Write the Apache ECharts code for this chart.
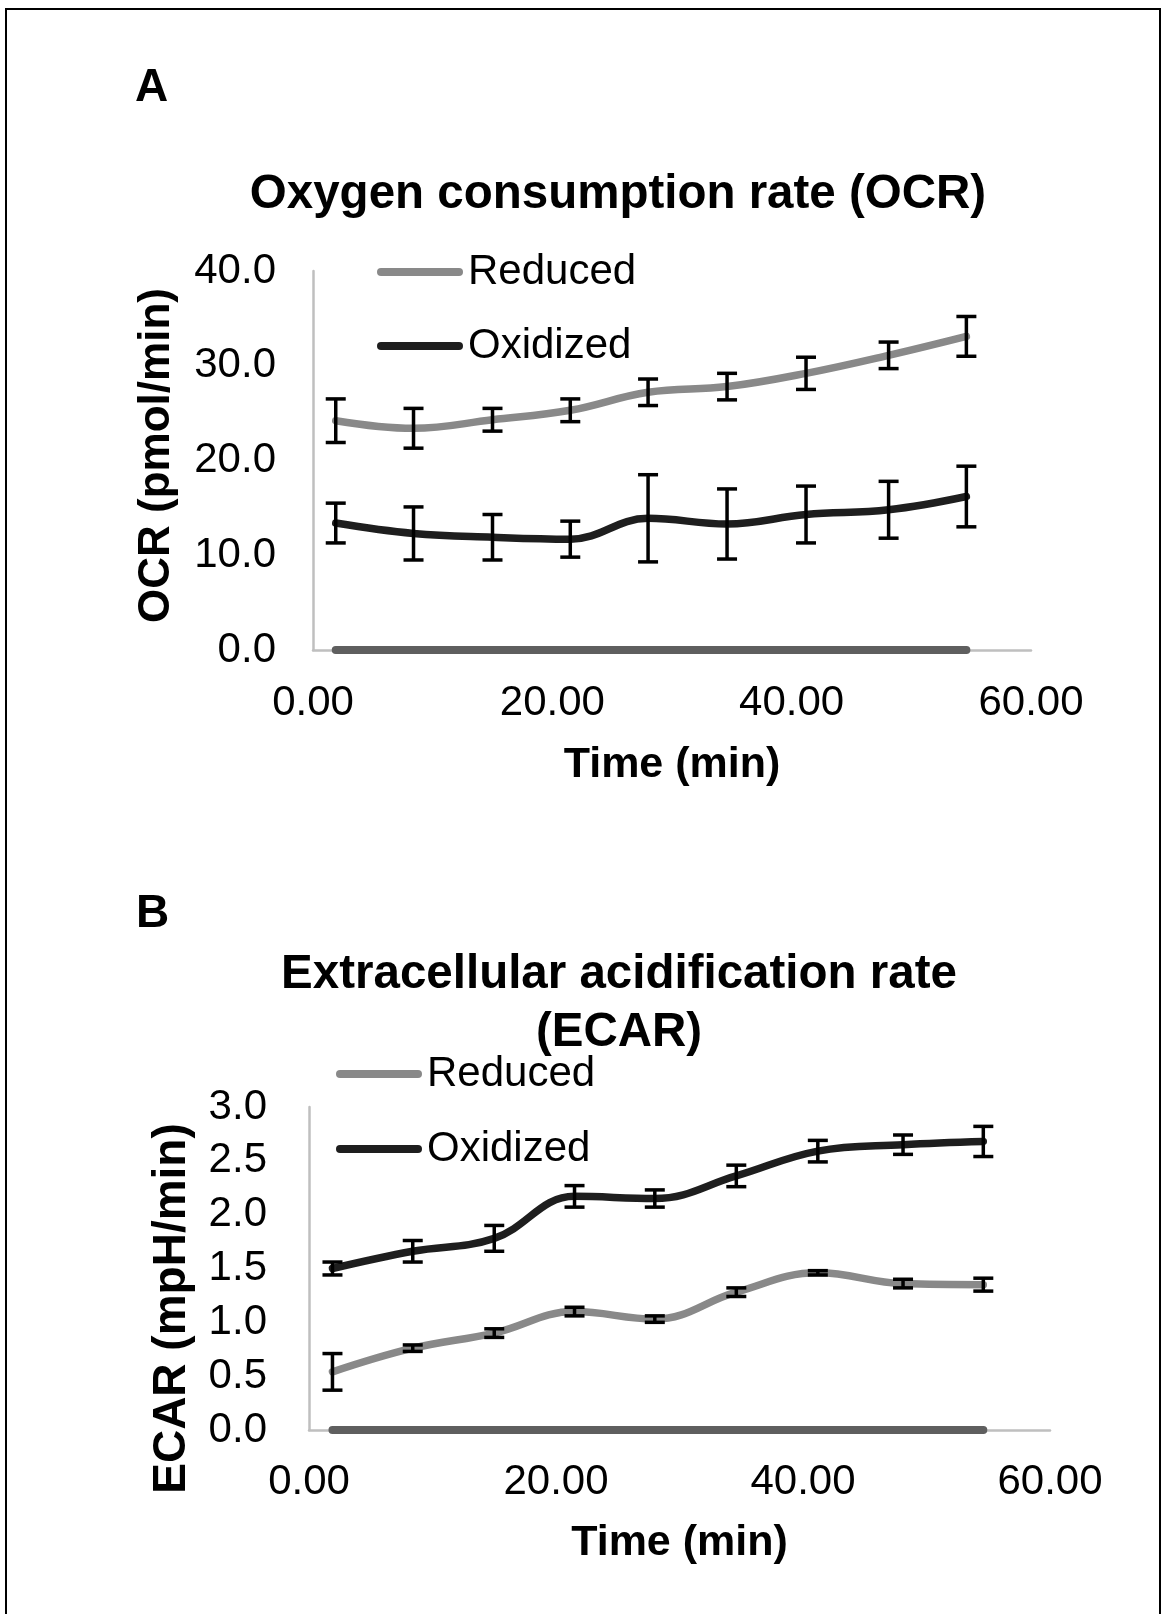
<!DOCTYPE html>
<html>
<head>
<meta charset="utf-8">
<title>OCR and ECAR</title>
<script src="https://cdn.jsdelivr.net/npm/echarts@6/dist/echarts.min.js"></script>
<style>
  html, body { margin: 0; padding: 0; background: #fff; }
  #chart { width: 1165px; height: 1614px; }
</style>
</head>
<body>
<div id="chart"></div>
<script>
// measurement times (min), same for both panels
const timePoints = [1.9, 8.4, 15.0, 21.5, 28.0, 34.6, 41.2, 48.1, 54.6];
const zeroLine = [0, 0, 0, 0, 0, 0, 0, 0, 0];

// A: OCR (pmol/min)
const ocrReduced = [24.2, 23.4, 24.3, 25.3, 27.2, 27.8, 29.2, 31.1, 33.1];
const ocrReducedErr = [2.3, 2.1, 1.2, 1.2, 1.4, 1.4, 1.7, 1.4, 2.1];
const ocrOxidized = [13.4, 12.3, 11.9, 11.7, 13.9, 13.3, 14.3, 14.8, 16.2];
const ocrOxidizedErr = [2.1, 2.8, 2.4, 1.9, 4.6, 3.7, 3.0, 3.0, 3.2];

// B: ECAR (mpH/min)
const ecarReduced = [0.54, 0.76, 0.90, 1.10, 1.03, 1.28, 1.46, 1.36, 1.35];
const ecarReducedErr = [0.17, 0.03, 0.04, 0.04, 0.03, 0.04, 0.02, 0.04, 0.06];
const ecarOxidized = [1.50, 1.66, 1.78, 2.17, 2.15, 2.36, 2.59, 2.65, 2.68];
const ecarOxidizedErr = [0.06, 0.10, 0.12, 0.10, 0.08, 0.10, 0.10, 0.09, 0.14];

const xTicks = [0, 20, 40, 60];
const ocrTicks = [0, 10, 20, 30, 40];
const ecarTicks = [0, 0.5, 1.0, 1.5, 2.0, 2.5, 3.0];

const FONT = '"Liberation Sans", Arial, sans-serif';
const GREY = '#898989';
const DARK = '#1e1e1e';
const BASE = '#5f5f5f';
const AXIS = '#bfbfbf';

const pairs = vals => timePoints.map((t, i) => [t, vals[i]]);

function lineSeries(name, vals, color, idx) {
  return {
    name: name,
    type: 'line',
    xAxisIndex: idx,
    yAxisIndex: idx,
    data: pairs(vals),
    smooth: 0.4,
    symbol: 'none',
    z: 3,
    lineStyle: { color: color, width: 7.5, cap: 'round', join: 'round' },
    itemStyle: { color: color }
  };
}

function errorSeries(vals, errs, idx) {
  return {
    type: 'custom',
    xAxisIndex: idx,
    yAxisIndex: idx,
    silent: true,
    z: 5,
    data: timePoints.map((t, i) => [t, vals[i] - errs[i], vals[i] + errs[i]]),
    encode: { x: 0, y: [1, 2] },
    renderItem(params, api) {
      const lo = api.coord([api.value(0), api.value(1)])
      const hi = api.coord([api.value(0), api.value(2)])
      const half = 10
      const style = { stroke: '#000', lineWidth: 3.5 }
      return {
        type: 'group',
        children: [
          { type: 'line', shape: { x1: lo[0], y1: lo[1], x2: hi[0], y2: hi[1] }, style: style },
          { type: 'line', shape: { x1: hi[0] - half, y1: hi[1], x2: hi[0] + half, y2: hi[1] }, style: style },
          { type: 'line', shape: { x1: lo[0] - half, y1: lo[1], x2: lo[0] + half, y2: lo[1] }, style: style }
        ]
      }
    }
  };
}

function xAxis(idx, labelMargin, nameGap) {
  return {
    type: 'value',
    gridIndex: idx,
    min: xTicks[0],
    max: xTicks[xTicks.length - 1],
    interval: xTicks[1] - xTicks[0],
    name: 'Time (min)',
    nameLocation: 'middle',
    nameGap: nameGap,
    nameTextStyle: { fontFamily: FONT, fontSize: 43, fontWeight: 'bold', color: '#000', lineHeight: 50 },
    axisLine: { show: true, lineStyle: { color: AXIS, width: 2.5 } },
    axisTick: { show: false },
    splitLine: { show: false },
    axisLabel: {
      margin: labelMargin,
      fontFamily: FONT, fontSize: 42, color: '#000', lineHeight: 42,
      formatter: v => v.toFixed(2)
    }
  };
}

function yAxis(idx, ticks, name, nameSize, nameGap, labelMargin, namePad) {
  return {
    type: 'value',
    gridIndex: idx,
    min: ticks[0],
    max: ticks[ticks.length - 1],
    interval: ticks[1] - ticks[0],
    name: name,
    nameLocation: 'middle',
    nameGap: nameGap,
    nameTextStyle: {
      fontFamily: FONT, fontSize: nameSize, fontWeight: 'bold', color: '#000', lineHeight: 50,
      padding: namePad
    },
    axisLine: { show: true, lineStyle: { color: AXIS, width: 2.5 } },
    axisTick: { show: false },
    splitLine: { show: false },
    axisLabel: {
      margin: labelMargin,
      fontFamily: FONT, fontSize: 42, color: '#000',
      formatter: v => v.toFixed(1)
    }
  };
}

function legendItem(name, left, top) {
  return {
    data: [name],
    orient: 'vertical',
    left: left,
    top: top,
    selectedMode: false,
    itemWidth: 86,
    itemHeight: 8,
    icon: 'path://M4,0 L82,0 A4,4 0 0 1 82,8 L4,8 A4,4 0 0 1 4,0 Z',
    textStyle: { fontFamily: FONT, fontSize: 42, color: '#000', lineHeight: 44 }
  };
}

const chart = echarts.init(document.getElementById('chart'), null, { renderer: 'canvas' });

chart.setOption({
  backgroundColor: '#fff',
  animation: false,
  title: [
    {
      text: 'Oxygen consumption rate (OCR)',
      left: 613, top: 162, textAlign: 'center',
      textStyle: { fontFamily: FONT, fontSize: 47.5, fontWeight: 'bold', color: '#000', lineHeight: 56 }
    },
    {
      text: 'Extracellular acidification rate\n(ECAR)',
      left: 614, top: 941, textAlign: 'center',
      textStyle: { fontFamily: FONT, fontSize: 47.5, fontWeight: 'bold', color: '#000', lineHeight: 58 }
    }
  ],
  graphic: [
    {
      type: 'rect', silent: true,
      shape: { x: 6, y: 9, width: 1154, height: 1620 },
      style: { fill: 'none', stroke: '#000', lineWidth: 2 }
    },
    {
      type: 'text', x: 135, y: 88,
      style: { text: 'A', font: 'bold 46px ' + FONT, fill: '#000', verticalAlign: 'middle' }
    },
    {
      type: 'text', x: 136, y: 914,
      style: { text: 'B', font: 'bold 46px ' + FONT, fill: '#000', verticalAlign: 'middle' }
    }
  ],
  legend: [
    legendItem('Reduced', 372, 245),
    legendItem('Oxidized', 372, 319),
    legendItem('Reduced', 331, 1047),
    legendItem('Oxidized', 331, 1122)
  ],
  grid: [
    { left: 313, top: 271, width: 718, height: 379 },
    { left: 309, top: 1107, width: 741, height: 323 }
  ],
  xAxis: [
    xAxis(0, 32, 90),
    xAxis(1, 31, 88)
  ],
  yAxis: [
    yAxis(0, ocrTicks, 'OCR (pmol/min)', 44, 131, 37, [0, 0, 0, 10]),
    yAxis(1, ecarTicks, 'ECAR (mpH/min)', 46, 108, 42, [0, 80, 0, 0])
  ],
  series: [
    {
      name: 'Baseline',
      type: 'line',
      xAxisIndex: 0, yAxisIndex: 0,
      data: pairs(zeroLine),
      symbol: 'none', z: 2,
      lineStyle: { color: BASE, width: 8, cap: 'round' }
    },
    lineSeries('Reduced', ocrReduced, GREY, 0),
    lineSeries('Oxidized', ocrOxidized, DARK, 0),
    errorSeries(ocrReduced, ocrReducedErr, 0),
    errorSeries(ocrOxidized, ocrOxidizedErr, 0),
    {
      name: 'Baseline',
      type: 'line',
      xAxisIndex: 1, yAxisIndex: 1,
      data: pairs(zeroLine),
      symbol: 'none', z: 2,
      lineStyle: { color: BASE, width: 8, cap: 'round' }
    },
    lineSeries('Reduced', ecarReduced, GREY, 1),
    lineSeries('Oxidized', ecarOxidized, DARK, 1),
    errorSeries(ecarReduced, ecarReducedErr, 1),
    errorSeries(ecarOxidized, ecarOxidizedErr, 1)
  ]
});
</script>
</body>
</html>
